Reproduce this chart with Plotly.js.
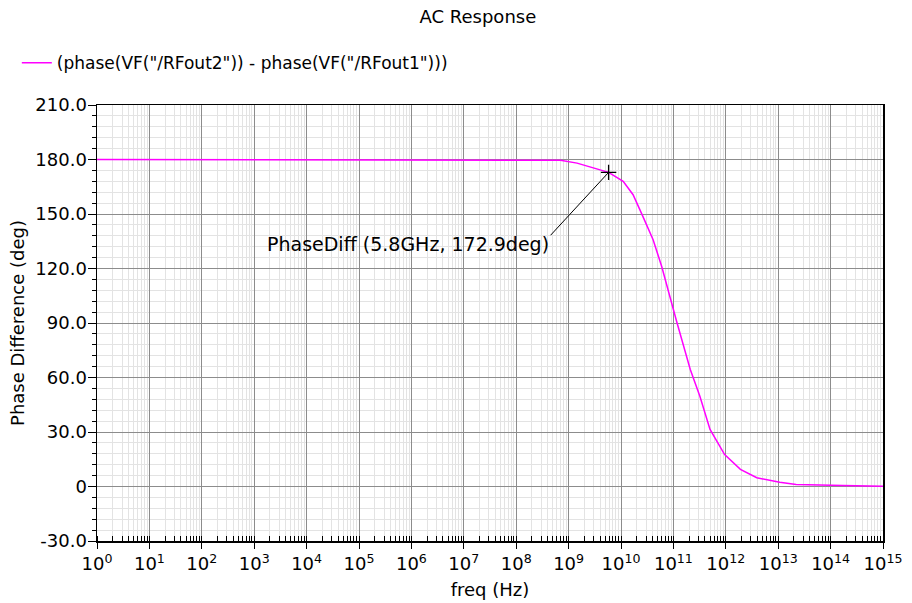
<!DOCTYPE html>
<html>
<head>
<meta charset="utf-8">
<script src="https://cdn.plot.ly/plotly-3.0.1.min.js"></script>
<style>
html,body{margin:0;padding:0;background:#fff;}
#chart{width:912px;height:603px;}
</style>
</head>
<body>
<div id="chart"></div>
<script>
// ---- data ----
const freqHz = [1, 10, 100, 1e3, 1e4, 1e5, 1e6, 1e7, 1e8, 7e8, 1.45e9, 5.8e9, 1.1e10, 1.7e10, 2.6e10, 4.1e10, 6e10, 9.8e10, 1.15e11, 2.1e11, 3.2e11, 5e11, 9.5e11, 1.9e12, 3.9e12, 1.07e13, 2.2e13, 1.7e14, 1e15];
const phaseDiffDeg = [180, 180, 180, 180, 180, 180, 180, 180, 180, 179.6, 178, 172.9, 168, 160.6, 148.8, 135.8, 121, 97.4, 91, 64.4, 49.7, 31.4, 17.6, 9.4, 4.8, 2.4, 1.1, 0.55, 0.2];
const seriesName = '(phase(VF("/RFout2")) - phase(VF("/RFout1")))';
const markerFreq = [5.8e9];
const markerDeg = [172.9];
const markerLabel = 'PhaseDiff (5.8GHz, 172.9deg)';
const yTickVals = [-30, 0, 30, 60, 90, 120, 150, 180, 210];
const yTickText = ['-30.0', '0', '30.0', '60.0', '90.0', '120.0', '150.0', '180.0', '210.0'];
const xTickExp = [0,1,2,3,4,5,6,7,8,9,10,11,12,13,14,15];

const xTickVals = xTickExp.map(e => Math.pow(10, e));
const xTickText = xTickExp.map(e => '10<sup>' + e + '</sup>');

const FONT = 'DejaVu Sans, sans-serif';

const traces = [
  {
    x: freqHz, y: phaseDiffDeg, type: 'scatter', mode: 'lines',
    name: seriesName,
    line: {color: '#ff00ff', width: 1.5},
    hoverinfo: 'skip'
  },
  {
    x: markerFreq, y: markerDeg, type: 'scatter', mode: 'markers',
    showlegend: false,
    marker: {symbol: 'cross-thin', size: 11, color: '#000', line: {color: '#000', width: 1.3}},
    hoverinfo: 'skip'
  }
];

const layout = {
  width: 912, height: 603,
  margin: {l: 97, r: 29, t: 105, b: 62},
  paper_bgcolor: '#fff', plot_bgcolor: '#fff',
  font: {family: FONT, color: '#000'},
  title: {text: 'AC Response', x: 0.524, xanchor: 'center', y: 0.973, yanchor: 'middle', font: {size: 18, family: FONT, color: '#000'}},
  showlegend: true,
  legend: {orientation: 'h', x: -0.102, xanchor: 'left', y: 1.096, yanchor: 'middle', font: {size: 17, family: FONT}, itemwidth: 30, bgcolor: 'rgba(0,0,0,0)'},
  xaxis: {
    type: 'log', range: [0, 15],
    tickmode: 'array', tickvals: xTickVals, ticktext: xTickText,
    tickfont: {size: 18, family: FONT},
    ticks: 'outside', ticklen: 6, tickcolor: '#000',
    showline: true, linecolor: '#000', linewidth: 1.5, mirror: true,
    showgrid: true, gridcolor: '#8c8c8c', gridwidth: 1,
    zeroline: false,
    minor: {dtick: 'D1', showgrid: true, gridcolor: '#e3e3e3', gridwidth: 1, ticks: 'inside', ticklen: 5, tickcolor: '#000'},
    title: {text: 'freq (Hz)', font: {size: 18, family: FONT}, standoff: 10}
  },
  yaxis: {
    range: [-30, 210],
    tickmode: 'array', tickvals: yTickVals, ticktext: yTickText,
    tickfont: {size: 18, family: FONT},
    ticks: 'outside', ticklen: 8, tickcolor: '#000',
    ticklabelstandoff: -3,
    showline: true, linecolor: '#000', linewidth: 1.5, mirror: true,
    showgrid: true, gridcolor: '#8c8c8c', gridwidth: 1,
    zeroline: false,
    minor: {dtick: 6, showgrid: true, gridcolor: '#e3e3e3', gridwidth: 1, ticks: 'outside', ticklen: 4, tickcolor: '#000'},
    title: {text: 'Phase Difference (deg)', font: {size: 18, family: FONT}, standoff: 6}
  },
  annotations: [
    {
      // connector from the label to the marker
      x: Math.log10(markerFreq[0]), y: markerDeg[0], xref: 'x', yref: 'y',
      text: ' ', showarrow: true, arrowhead: 0, arrowwidth: 1, arrowcolor: '#000',
      ax: -60, ay: 65, axref: 'pixel', ayref: 'pixel', standoff: 0, startstandoff: 0,
      font: {size: 2}
    },
    {
      x: Math.log10(markerFreq[0]), y: markerDeg[0], xref: 'x', yref: 'y',
      text: markerLabel, showarrow: false,
      xanchor: 'right', yanchor: 'middle', xshift: -58, yshift: -72,
      font: {size: 19, family: FONT, color: '#000'}
    }
  ]
};

Plotly.newPlot('chart', traces, layout, {displayModeBar: false, staticPlot: true});
</script>
</body>
</html>
